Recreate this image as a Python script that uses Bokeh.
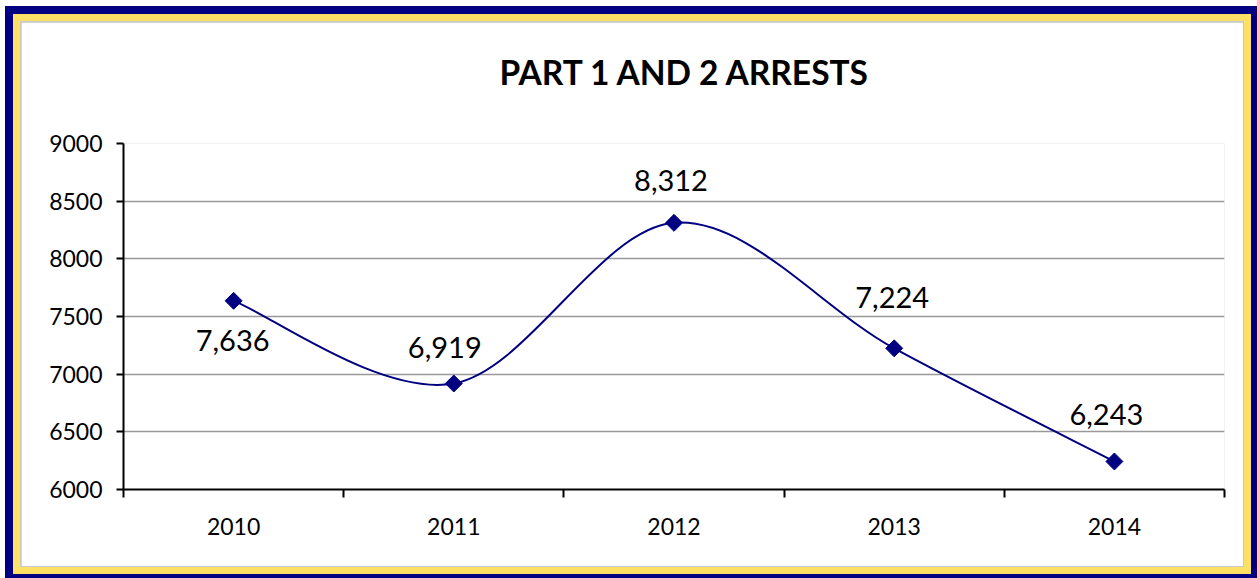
import numpy as np
from bokeh.plotting import figure
from bokeh.models import Range1d, FixedTicker, Title, ColumnDataSource
from bokeh.core.properties import value
from bokeh.embed import file_html
from bokeh.resources import INLINE

# ---- data ----
title_text = "PART 1 AND 2 ARRESTS"
years = ["2010", "2011", "2012", "2013", "2014"]
arrests = [7636, 6919, 8312, 7224, 6243]
value_labels = ["7,636", "6,919", "8,312", "7,224", "6,243"]
y_ticks = [6000, 6500, 7000, 7500, 8000, 8500, 9000]

# label placement (screen px offsets from each point)
label_dx = [-1, -9, -3, -2, -8]
label_dy = [40, -36, -42, -51, -47]

NAVY = "#000080"
FONT = "Lato"

xs = [i + 0.5 for i in range(len(years))]

p = figure(
    frame_width=1101, frame_height=346,
    min_border_left=102, min_border_right=19,
    min_border_top=121, min_border_bottom=77,
    x_range=Range1d(0, len(years)), y_range=Range1d(6000, 9000),
    output_backend="svg", toolbar_location=None,
    background_fill_color="white", border_fill_color="white",
    title_location=None,
)
p.outline_line_color = None
p.styles = {
    "border": "7px solid #FFE066",
    "outline": "8px solid #000080",
    "margin-left": "13px",
    "margin-top": "14px",
    "padding": "1px",
    "background-color": "#C8C8C8",
}

# spacer between plot area and title, then the title itself
p.add_layout(Title(text=" ", text_font_size="10px", standoff=34), "above")
p.add_layout(Title(text=title_text, align="left", offset=376, standoff=10,
                   text_font=FONT, text_font_size="33.5px", text_font_style="bold",
                   text_color="black"), "above")

# axes
xa = p.xaxis[0]
xa.ticker = FixedTicker(ticks=xs, minor_ticks=list(range(len(years) + 1)))
xa.major_label_overrides = {x: y for x, y in zip(xs, years)}
xa.major_tick_out = 0
xa.major_tick_in = 0
xa.minor_tick_out = 8
xa.minor_tick_in = 0
xa.minor_tick_line_color = "black"
xa.minor_tick_line_width = 2
xa.axis_line_color = "black"
xa.axis_line_width = 2
xa.major_label_standoff = 20
xa.major_label_text_font = FONT
xa.major_label_text_font_size = "23px"
xa.major_label_text_color = "black"

ya = p.yaxis[0]
ya.ticker = FixedTicker(ticks=y_ticks, minor_ticks=[])
ya.major_tick_out = 7
ya.major_tick_in = 0
ya.major_tick_line_width = 2
ya.major_tick_line_color = "black"
ya.axis_line_color = "black"
ya.axis_line_width = 2
ya.major_label_standoff = 14
ya.major_label_text_font = FONT
ya.major_label_text_font_size = "23px"
ya.major_label_text_color = "black"

p.xgrid.grid_line_color = None
p.ygrid.grid_line_color = "#999999"
p.ygrid.grid_line_width = 1.5
p.ygrid.ticker = FixedTicker(ticks=y_ticks[1:])

# smoothed line (Catmull-Rom style Bezier segments through the data points)
P = np.column_stack([xs, arrests]).astype(float)
n = len(P)
seg = dict(x0=[], y0=[], x1=[], y1=[], cx0=[], cy0=[], cx1=[], cy1=[])
for i in range(n - 1):
    pm = P[max(i - 1, 0)]
    p0 = P[i]
    p1 = P[i + 1]
    p2 = P[min(i + 2, n - 1)]
    c0 = p0 + (p1 - pm) / 6.0
    c1 = p1 - (p2 - p0) / 6.0
    seg["x0"].append(p0[0]); seg["y0"].append(p0[1])
    seg["x1"].append(p1[0]); seg["y1"].append(p1[1])
    seg["cx0"].append(c0[0]); seg["cy0"].append(c0[1])
    seg["cx1"].append(c1[0]); seg["cy1"].append(c1[1])
p.bezier(x0="x0", y0="y0", x1="x1", y1="y1", cx0="cx0", cy0="cy0",
         cx1="cx1", cy1="cy1", source=ColumnDataSource(seg),
         line_color=NAVY, line_width=2)

src = ColumnDataSource(dict(x=xs, y=arrests, lab=value_labels,
                            dx=label_dx, dy=label_dy))
p.scatter(x="x", y="y", source=src, marker="square", angle=np.pi / 4,
          size=12, fill_color=NAVY, line_color=NAVY)

p.text(x="x", y="y", text="lab", source=src, x_offset="dx", y_offset="dy",
       text_align="center", text_baseline="middle",
       text_font=value(FONT), text_font_size="29px", text_color="black")

open("out.html", "w").write(file_html(p, INLINE))
